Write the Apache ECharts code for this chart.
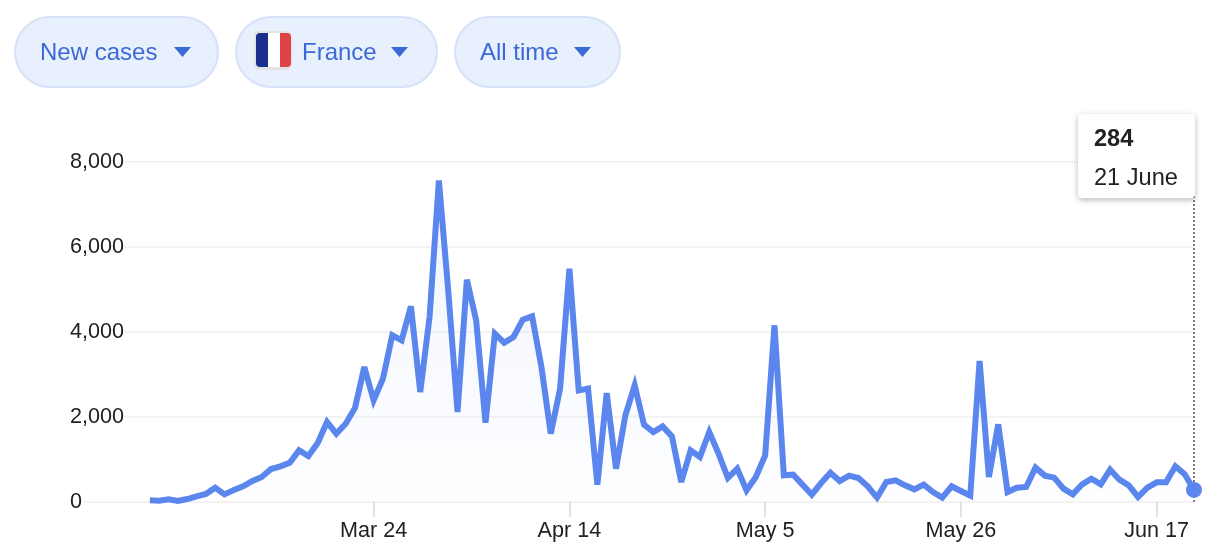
<!DOCTYPE html>
<html>
<head>
<meta charset="utf-8">
<title>New cases - France</title>
<style>
  html, body { margin: 0; padding: 0; background: #fff; }
  #chart { width: 1218px; height: 560px; }
</style>
<script src="https://cdn.jsdelivr.net/npm/echarts@6/dist/echarts.min.js"></script>
</head>
<body>
<div id="chart"></div>
<script>
const days = [
  "Feb 29",
  "Mar 1", "Mar 2", "Mar 3", "Mar 4", "Mar 5", "Mar 6", "Mar 7", "Mar 8", "Mar 9", "Mar 10",
  "Mar 11", "Mar 12", "Mar 13", "Mar 14", "Mar 15", "Mar 16", "Mar 17", "Mar 18", "Mar 19", "Mar 20",
  "Mar 21", "Mar 22", "Mar 23", "Mar 24", "Mar 25", "Mar 26", "Mar 27", "Mar 28", "Mar 29", "Mar 30", "Mar 31",
  "Apr 1", "Apr 2", "Apr 3", "Apr 4", "Apr 5", "Apr 6", "Apr 7", "Apr 8", "Apr 9", "Apr 10",
  "Apr 11", "Apr 12", "Apr 13", "Apr 14", "Apr 15", "Apr 16", "Apr 17", "Apr 18", "Apr 19", "Apr 20",
  "Apr 21", "Apr 22", "Apr 23", "Apr 24", "Apr 25", "Apr 26", "Apr 27", "Apr 28", "Apr 29", "Apr 30",
  "May 1", "May 2", "May 3", "May 4", "May 5", "May 6", "May 7", "May 8", "May 9", "May 10",
  "May 11", "May 12", "May 13", "May 14", "May 15", "May 16", "May 17", "May 18", "May 19", "May 20",
  "May 21", "May 22", "May 23", "May 24", "May 25", "May 26", "May 27", "May 28", "May 29", "May 30", "May 31",
  "Jun 2", "Jun 3", "Jun 4", "Jun 5", "Jun 6", "Jun 7", "Jun 8", "Jun 9", "Jun 10",
  "Jun 11", "Jun 12", "Jun 13", "Jun 14", "Jun 15", "Jun 16", "Jun 17", "Jun 18", "Jun 19", "Jun 20", "Jun 21"
];
const newCases = [
  39, 31, 63, 24, 70, 133, 188, 337, 180, 282,
  369, 494, 588, 776, 839, 925, 1216, 1082, 1388, 1882,
  1608, 1843, 2212, 3176, 2392, 2902, 3921, 3804, 4604, 2588,
  4353, 7568, 4980, 2118, 5231, 4274, 1867, 3961, 3749, 3882,
  4290, 4369, 3176, 1608, 2667, 5490, 2627, 2667, 408, 2565,
  784, 2039, 2745, 1820, 1647, 1780, 1545, 470, 1216, 1059,
  1647, 1137, 565, 784, 275, 588, 1098, 4157, 627, 643,
  408, 173, 447, 690, 494, 620, 565, 369, 102, 470,
  510, 392, 298, 408, 235, 102, 369, 259, 149, 3318,
  588, 1827, 235, 337, 353, 808, 620, 573, 314, 180,
  416, 549, 416, 761, 525, 392, 118, 337, 463, 463,
  839, 651, 284
];
const tickDays = ["Mar 24", "Apr 14", "May 5", "May 26", "Jun 17"];
// empty days in front of the first report, the gridlines start left of the line
const leadingDays = 9;
const yMax = 9130;

const categories = [...Array(leadingDays).fill(""), ...days];
const seriesData = [...Array(leadingDays).fill(null), ...newCases];
const lastIndex = categories.length - 1;
const showTick = (index, value) => tickDays.includes(value);

const textColor = "#202124";
const blue = "#3b69d6";

function pill(x, width) {
  return {
    type: "rect",
    shape: { x: x, y: 17, width: width, height: 70, r: 35 },
    style: { fill: "#e8effd", stroke: "#d5e2f9", lineWidth: 2 }
  };
}
function pillText(x, text) {
  return {
    type: "text",
    style: {
      x: x, y: 53, text: text, fill: blue,
      font: "24px 'Liberation Sans'", verticalAlign: "middle"
    }
  };
}
function caret(x) {
  return {
    type: "polygon",
    shape: { points: [[x, 47], [x + 17, 47], [x + 8.5, 57]] },
    style: { fill: blue }
  };
}

const chart = echarts.init(document.getElementById("chart"));
chart.setOption({
  animation: false,
  backgroundColor: "#fff",
  textStyle: { fontFamily: "Liberation Sans" },
  grid: { left: 66, right: 24, top: 114, bottom: 58 },
  tooltip: {
    trigger: "axis",
    axisPointer: { type: "none" },
    alwaysShowContent: true,
    transitionDuration: 0,
    position: [1078, 114],
    padding: 0,
    borderWidth: 0,
    backgroundColor: "#fff",
    extraCssText: "border-radius:4px;box-shadow:0 2px 6px rgba(0,0,0,0.28);",
    formatter: () =>
      '<div style="width:117px;height:84px;box-sizing:border-box;padding:5px 0 0 16px;' +
      "font:23.6px 'Liberation Sans';color:" + textColor + ';line-height:39px;">' +
      "<b>284</b><br>21 June</div>"
  },
  xAxis: {
    type: "category",
    boundaryGap: false,
    data: categories,
    axisLine: { show: false },
    axisTick: {
      interval: showTick,
      length: 15,
      lineStyle: { color: "#e2e2e2", width: 2 }
    },
    axisLabel: {
      interval: showTick,
      color: textColor,
      fontSize: 21.6,
      margin: 18
    },
    splitLine: { show: false }
  },
  yAxis: {
    type: "value",
    min: 0,
    max: yMax,
    interval: 2000,
    axisLine: { show: false },
    axisTick: { show: false },
    axisLabel: {
      inside: true,
      showMaxLabel: false,
      margin: 0,
      padding: [5, 1, 0, 4],
      align: "left",
      color: textColor,
      fontSize: 21.6,
      backgroundColor: "#fff",
      formatter: value => value.toLocaleString("en-US")
    },
    splitLine: {
      showMaxLine: false,
      lineStyle: { color: "#f3f3f3", width: 2 }
    }
  },
  series: [
    {
      type: "line",
      data: seriesData,
      showSymbol: false,
      emphasis: { disabled: true },
      lineStyle: { color: "#5a86ee", width: 6, join: "miter", miterLimit: 4 },
      areaStyle: {
        color: {
          type: "linear", x: 0, y: 0, x2: 0, y2: 1,
          colorStops: [
            { offset: 0, color: "rgba(90,134,238,0.12)" },
            { offset: 1, color: "rgba(90,134,238,0.01)" }
          ]
        }
      },
      markLine: {
        silent: true,
        symbol: "none",
        label: { show: false },
        lineStyle: { color: "#555", type: [2, 2], width: 1.5 },
        data: [[{ coord: [lastIndex, 0] }, { coord: [lastIndex, yMax] }]]
      },
      markPoint: {
        silent: true,
        symbol: "circle",
        symbolSize: 16,
        label: { show: false },
        itemStyle: { color: "#5a86ee" },
        data: [{ coord: [lastIndex, newCases[newCases.length - 1]] }]
      }
    }
  ],
  graphic: {
    elements: [
      pill(15, 203), pillText(40, "New cases"), caret(174),
      pill(236, 201), pillText(302, "France"), caret(391),
      pill(455, 165), pillText(480, "All time"), caret(574),
      // flag
      { type: "rect", shape: { x: 254, y: 31, width: 38, height: 39, r: 5 }, style: { fill: "#e3e3e3" } },
      { type: "rect", shape: { x: 256, y: 33, width: 12, height: 34, r: [4, 0, 0, 4] }, style: { fill: "#1b2f8e" } },
      { type: "rect", shape: { x: 268, y: 33, width: 12, height: 34 }, style: { fill: "#fff" } },
      { type: "rect", shape: { x: 280, y: 33, width: 11, height: 34, r: [0, 4, 4, 0] }, style: { fill: "#de4348" } }
    ]
  }
});
chart.dispatchAction({ type: "showTip", seriesIndex: 0, dataIndex: lastIndex });
</script>
</body>
</html>
